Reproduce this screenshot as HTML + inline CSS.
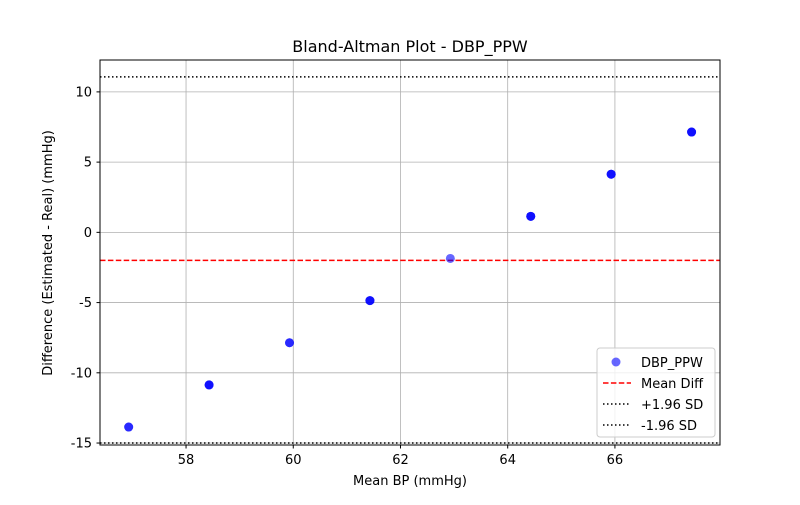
<!DOCTYPE html>
<html><head><meta charset="utf-8"><style>
body{margin:0;background:#fff;font-family:"Liberation Sans","DejaVu Sans",sans-serif;}
</style></head><body>
<svg id="chart" width="800" height="500" xmlns="http://www.w3.org/2000/svg" font-family="DejaVu Sans, Liberation Sans, sans-serif">
<rect width="800" height="500" fill="#fff"/>
<g id="grid"></g>
<g id="lines"></g>
<g id="points"></g>
<rect x="100" y="60" width="620" height="385" fill="none" stroke="#000" stroke-width="1"/>
<g id="ticks"></g>
<text x="410" y="52" text-anchor="middle" font-size="16">Bland-Altman Plot - DBP_PPW</text>
<text x="410" y="485" text-anchor="middle" font-size="13">Mean BP (mmHg)</text>
<text transform="translate(52,253) rotate(-90)" text-anchor="middle" font-size="13">Difference (Estimated - Real) (mmHg)</text>
<g>
<rect x="597" y="348" width="118" height="89" rx="3" fill="#fff" fill-opacity="0.8" stroke="#ccc"/>
<circle cx="616" cy="362" r="4.5" fill="#0000ff" fill-opacity="0.6"/>
<text x="641" y="367" font-size="13">DBP_PPW</text>
<line x1="603" y1="383" x2="631" y2="383" stroke="#ff0000" stroke-width="1.5" stroke-dasharray="5.5,2.4"/>
<text x="641" y="388" font-size="13">Mean Diff</text>
<line x1="603" y1="404" x2="631" y2="404" stroke="#000" stroke-width="1.5" stroke-dasharray="1.5,2.5"/>
<text x="641" y="409" font-size="13">+1.96 SD</text>
<line x1="603" y1="425" x2="631" y2="425" stroke="#000" stroke-width="1.5" stroke-dasharray="1.5,2.5"/>
<text x="641" y="430" font-size="13">-1.96 SD</text>
</g>
</svg>
<script>
const meanBP=[56.93,56.93,58.43,58.43,58.43,59.93,59.93,61.43,61.43,61.43,62.93,64.43,64.43,64.43,65.93,65.93,65.93,67.43,67.43,67.43];
const diffs=[-13.86,-13.86,-10.86,-10.86,-10.86,-7.86,-7.86,-4.86,-4.86,-4.86,-1.86,1.14,1.14,1.14,4.14,4.14,4.14,7.14,7.14,7.14];
const meanDiff=[-2.0];
const limits=[11.07,-15.0];
const xTicks=[58,60,62,64,66];
const yTicks=[-15,-10,-5,0,5,10];
const X0=56.395,X1=67.96,Y0=-15.14,Y1=12.27;
const sx=v=>100+(v-X0)/(X1-X0)*620;
const sy=v=>445-(v-Y0)/(Y1-Y0)*385;
const NS="http://www.w3.org/2000/svg";
function mk(t,a,p){const e=document.createElementNS(NS,t);for(const k in a)e.setAttribute(k,a[k]);p.appendChild(e);return e;}
const grid=document.getElementById('grid'),ticks=document.getElementById('ticks'),lines=document.getElementById('lines'),pts=document.getElementById('points');
xTicks.forEach(v=>{const x=sx(v);
const g=mk('line',{x1:x,x2:x,y1:60,y2:445,stroke:'#b0b0b0','stroke-width':0.8},grid);


mk('line',{x1:x,x2:x,y1:445,y2:448.5,stroke:'#000'},ticks);
const t=mk('text',{x:x,y:464,'text-anchor':'middle','font-size':13},ticks);t.textContent=v;

});
yTicks.forEach(v=>{const y=sy(v);
const g=mk('line',{x1:100,x2:720,y1:y,y2:y,stroke:'#b0b0b0','stroke-width':0.8},grid);


mk('line',{x1:96.5,x2:100,y1:y,y2:y,stroke:'#000'},ticks);
const t=mk('text',{x:92,y:y+4.5,'text-anchor':'end','font-size':13},ticks);t.textContent=v;

});
meanDiff.forEach(v=>{const l=mk('line',{x1:100,x2:720,y1:sy(v),y2:sy(v),stroke:'#ff0000','stroke-width':1.5,'stroke-dasharray':'5.5,2.4'},lines);

});
limits.forEach(v=>{const l=mk('line',{x1:100,x2:720,y1:sy(v),y2:sy(v),stroke:'#000','stroke-width':1.5,'stroke-dasharray':'1.5,2.5'},lines);

});
meanBP.forEach((m,i)=>{const c=mk('circle',{cx:sx(m),cy:sy(diffs[i]),r:4.5,fill:'#0000ff','fill-opacity':0.6},pts);

});
</script>
</body></html>
